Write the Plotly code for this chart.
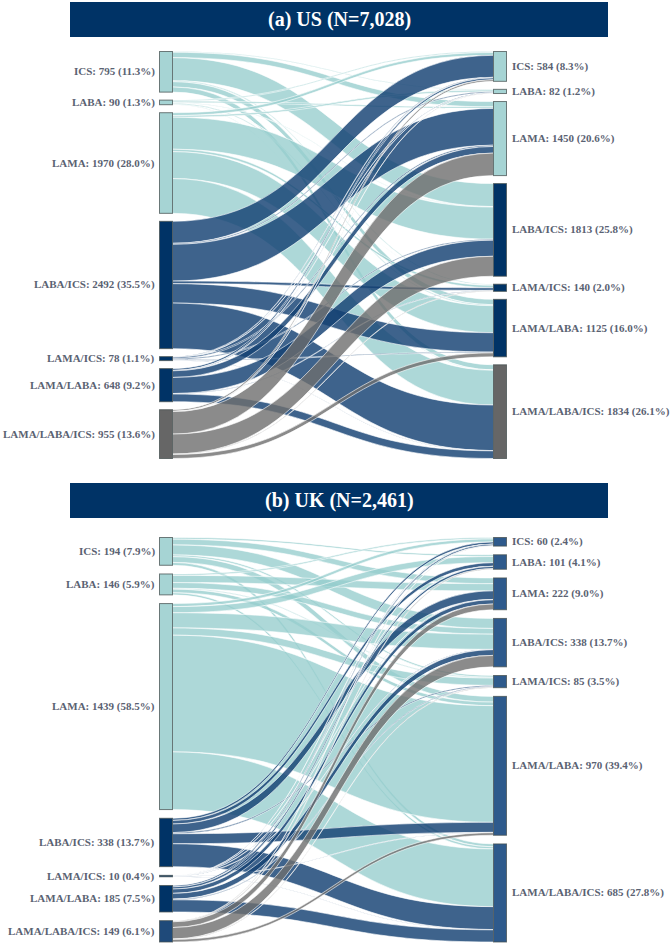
import plotly.graph_objects as go

# ---------------- data ----------------
classes = ["ICS", "LABA", "LAMA", "LABA/ICS", "LAMA/ICS", "LAMA/LABA", "LAMA/LABA/ICS"]

# US: rows = first treatment (source), columns = next treatment (target), order = classes
us_from_ics = [0, 15, 105, 450, 20, 105, 100]
us_from_laba = [20, 0, 30, 10, 3, 20, 7]
us_from_lama = [55, 32, 0, 628, 47, 528, 680]
us_from_laba_ics = [430, 20, 720, 0, 50, 380, 892]
us_from_lama_ics = [12, 2, 25, 20, 0, 14, 5]
us_from_lama_laba = [35, 8, 130, 315, 10, 0, 150]
us_from_triple = [32, 5, 440, 390, 10, 78, 0]

# UK
uk_from_ics = [0, 12, 40, 70, 12, 40, 20]
uk_from_laba = [10, 0, 50, 40, 6, 25, 15]
uk_from_lama = [21, 43, 0, 106, 51, 815, 403]
uk_from_laba_ics = [15, 25, 60, 0, 8, 70, 160]
uk_from_lama_ics = [1, 1, 2, 2, 0, 2, 2]
uk_from_lama_laba = [10, 15, 30, 40, 5, 0, 85]
uk_from_triple = [3, 5, 40, 80, 3, 18, 0]

us_title = "(a) US (N=7,028)"
uk_title = "(b) UK (N=2,461)"

# ---------------- styles ----------------
W, H = 672, 945
TEAL_NODE = "#a6d4d4"
NAVY_NODE = "#003366"
GRAY_NODE = "#666666"
UK_LEFT_TRIPLE = "#1f4a7a"
UK_RIGHT = "#2e5a8c"
TEAL_LINK = "rgba(150,205,205,0.78)"
NAVY_LINK = "rgba(20,65,115,0.82)"
GRAY_LINK = "rgba(110,110,110,0.8)"
LABEL_COLOR = "#5a6272"
FONT = "Liberation Serif"
LABEL_SIZE = 11

THICK = 13
LEFT_X_PX = 166
RIGHT_X_PX = 500


def centers(values, height_px, pad):
    total = sum(values)
    ky = (height_px - pad * (len(values) - 1)) / total
    out, y = [], 0.0
    for v in values:
        h = v * ky
        out.append(y + h / 2)
        y += h + pad
    return out


def build(rows, top_px, bot_px, pad, left_cols, right_cols, link_cols):
    n = len(classes)
    src_tot = [sum(r) for r in rows]
    tgt_tot = [sum(rows[i][j] for i in range(n)) for j in range(n)]
    hpx = bot_px - top_px
    lc = centers(src_tot, hpx, pad)
    rc = centers(tgt_tot, hpx, pad)
    source, target, value, colors = [], [], [], []
    for i in range(n):
        for j in range(n):
            if rows[i][j] > 0:
                source.append(i)
                target.append(n + j)
                value.append(rows[i][j])
                colors.append(link_cols[i])
    xs = [LEFT_X_PX / W] * n + [RIGHT_X_PX / W] * n
    ys = [c / hpx for c in lc] + [c / hpx for c in rc]
    trace = go.Sankey(
        arrangement="fixed",
        domain=dict(x=[0, 1], y=[1 - bot_px / H, 1 - top_px / H]),
        node=dict(
            label=[""] * (2 * n),
            x=xs, y=ys, pad=pad, thickness=THICK,
            color=left_cols + right_cols,
            line=dict(color="rgba(70,80,80,0.75)", width=1),
            hoverinfo="none",
        ),
        link=dict(source=source, target=target, value=value, color=colors,
                  line=dict(color="white", width=0.6), hoverinfo="none"),
        hoverinfo="none",
    )
    total = sum(src_tot)
    anns = []
    for i in range(n):
        anns.append(dict(
            x=(LEFT_X_PX - THICK / 2 - 3) / W, y=1 - (top_px + lc[i]) / H,
            xref="paper", yref="paper", xanchor="right", yanchor="middle",
            text=f"<b>{classes[i]}: {src_tot[i]} ({src_tot[i] / total * 100:.1f}%)</b>",
            showarrow=False, font=dict(family=FONT, size=LABEL_SIZE, color=LABEL_COLOR)))
        anns.append(dict(
            x=(RIGHT_X_PX + THICK / 2 + 3) / W, y=1 - (top_px + rc[i]) / H,
            xref="paper", yref="paper", xanchor="left", yanchor="middle",
            text=f"<b>{classes[i]}: {tgt_tot[i]} ({tgt_tot[i] / total * 100:.1f}%)</b>",
            showarrow=False, font=dict(family=FONT, size=LABEL_SIZE, color=LABEL_COLOR)))
    return trace, anns


us_rows = [us_from_ics, us_from_laba, us_from_lama, us_from_laba_ics,
           us_from_lama_ics, us_from_lama_laba, us_from_triple]
uk_rows = [uk_from_ics, uk_from_laba, uk_from_lama, uk_from_laba_ics,
           uk_from_lama_ics, uk_from_lama_laba, uk_from_triple]

us_nodes = [TEAL_NODE] * 3 + [NAVY_NODE] * 3 + [GRAY_NODE]
uk_left = [TEAL_NODE] * 3 + [NAVY_NODE] * 3 + [UK_LEFT_TRIPLE]
uk_right = [UK_RIGHT] * 7
link_cols = [TEAL_LINK] * 3 + [NAVY_LINK] * 3 + [GRAY_LINK]

us_trace, us_anns = build(us_rows, 51.5, 458.5, 8, us_nodes, us_nodes, link_cols)
uk_trace, uk_anns = build(uk_rows, 537.5, 942, 8.7, uk_left, uk_right, link_cols)

fig = go.Figure([us_trace, uk_trace])

shapes = []
title_anns = []
for text, (y0, y1) in [(us_title, (2, 37)), (uk_title, (483, 518))]:
    shapes.append(dict(type="rect", xref="paper", yref="paper",
                       x0=70 / W, x1=608 / W, y0=1 - y1 / H, y1=1 - y0 / H,
                       fillcolor="#003366", line=dict(width=0), layer="below"))
    title_anns.append(dict(x=339 / W, y=1 - (y0 + y1) / 2 / H, xref="paper", yref="paper",
                           xanchor="center", yanchor="middle", showarrow=False,
                           text=f"<b>{text}</b>",
                           font=dict(family=FONT, size=20, color="white")))

fig.update_layout(
    width=W, height=H,
    margin=dict(l=0, r=0, t=0, b=0),
    paper_bgcolor="white", plot_bgcolor="white",
    shapes=shapes,
    annotations=us_anns + uk_anns + title_anns,
    font=dict(family=FONT),
)

fig.write_html(
    "out.html",
    config={"displayModeBar": False},
    post_script="document.body.style.margin='0';document.body.style.overflow='hidden';",
)
